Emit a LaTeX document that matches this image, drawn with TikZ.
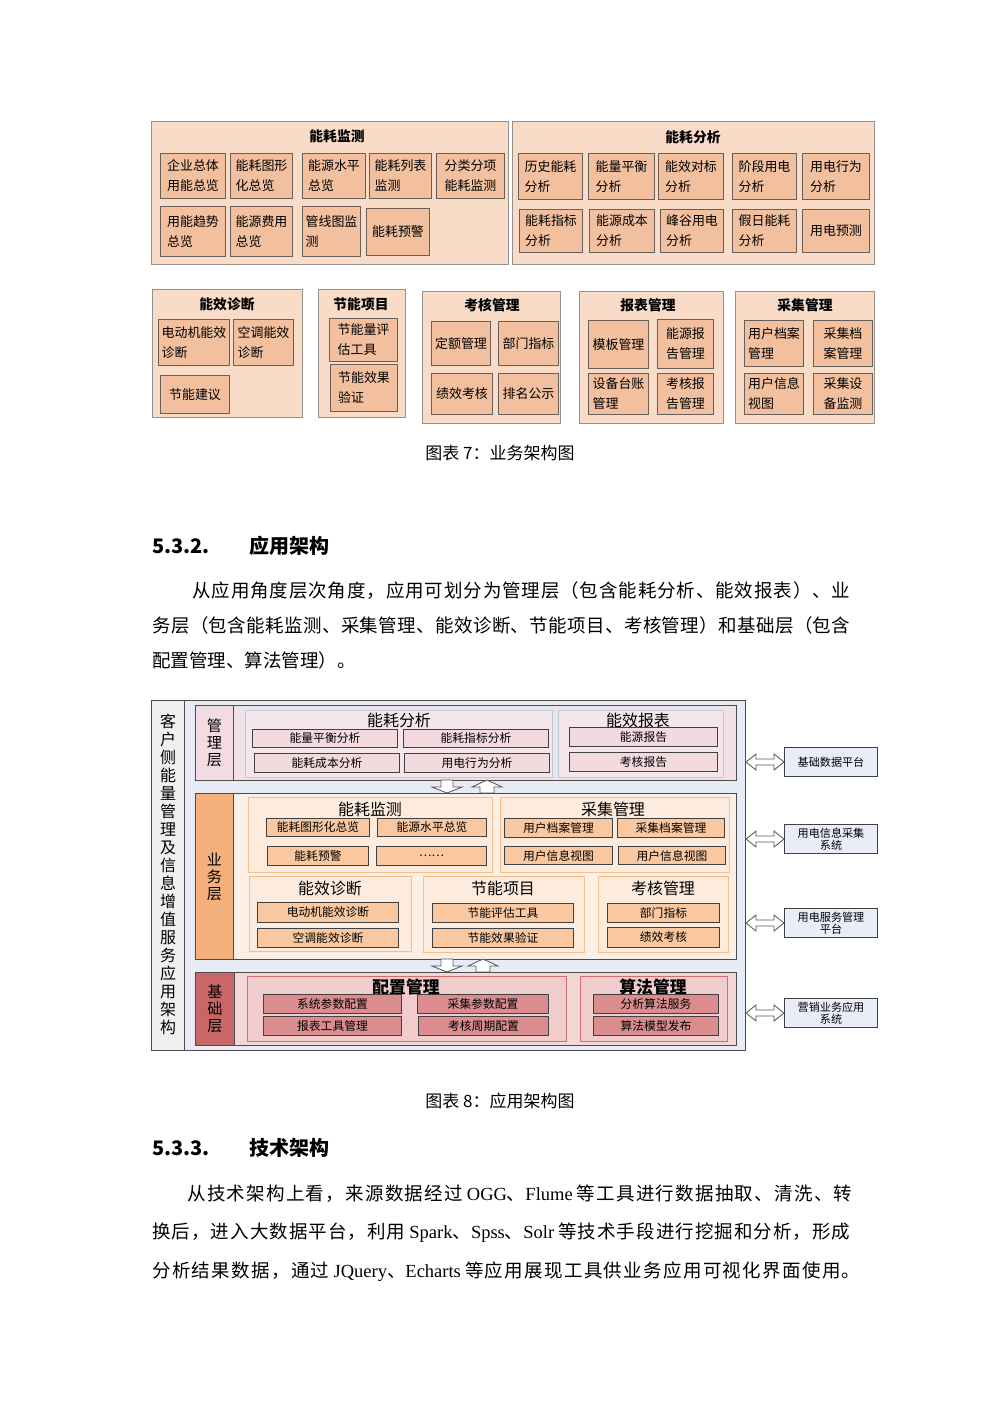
\documentclass[tikz,border=0pt]{standalone}
\usepackage{fontspec}
\setmainfont{Noto Sans CJK SC}
\newfontfamily\lat{Liberation Serif}
\usetikzlibrary{calc, positioning}

% stretchable glue between CJK characters, only for justified lines
\newcount\tegn
\tegn="4E00
\loop \XeTeXcharclass\tegn=7 \advance\tegn 1 \ifnum\tegn<"A000 \repeat
\tegn="3000
\loop \XeTeXcharclass\tegn=7 \advance\tegn 1 \ifnum\tegn<"3040 \repeat
\tegn="FF00
\loop \XeTeXcharclass\tegn=7 \advance\tegn 1 \ifnum\tegn<"FFF0 \repeat
\newcommand{\cjkglue}{\hskip 0pt plus 1fil\relax}
\XeTeXinterchartoks 7 7 = {\cjkglue}

\newlength{\pxl}
\setlength{\pxl}{0.595pt}
\newcommand{\skrift}[2]{\fontsize{#1}{#2}\selectfont}
\newcommand{\linje}[2]{{\XeTeXinterchartokenstate=1 \makebox[#1\pxl][s]{#2}}}
\newcommand{\boks}[7]{%
  \node[#1, anchor=north west, minimum width={(#4-#2)*\pxl}, minimum height={(#5-#3)*\pxl}] (#6) at (#2,#3) {#7};}
\newcommand{\nedpil}[2]{\draw[pil] ({#1-6},#2) -- ({#1+6},#2) -- ({#1+6},{#2+7}) -- ({#1+15},{#2+7}) -- (#1,{#2+13}) -- ({#1-15},{#2+7}) -- ({#1-6},{#2+7}) -- cycle;}
\newcommand{\opppil}[2]{\draw[pil] (#1,#2) -- ({#1+15},{#2+7}) -- ({#1+7},{#2+7}) -- ({#1+7},{#2+13}) -- ({#1-7},{#2+13}) -- ({#1-7},{#2+7}) -- ({#1-15},{#2+7}) -- cycle;}
\newcommand{\dobbelpil}[1]{\draw[pil] (app.east |- #1.west) -- ++(10,-8) -- ++(0,5) -- ($(#1.west)+(-10,-3)$) -- ++(0,-5) -- (#1.west) -- ++(-10,8) -- ++(0,-5) -- ($(app.east |- #1.west)+(10,3)$) -- ++(0,5) -- cycle;}

\definecolor{ytrefyll}{RGB}{249,220,200}
\definecolor{ytrekant}{RGB}{150,145,140}
\definecolor{punktfyll}{RGB}{242,192,158}
\definecolor{punktkant}{RGB}{105,95,90}
\definecolor{venstre}{RGB}{240,240,240}
\definecolor{bakblaa}{RGB}{230,235,245}
\definecolor{mcelle}{RGB}{242,220,225}
\definecolor{mfyll}{RGB}{240,226,230}
\definecolor{mgrp}{RGB}{244,231,235}
\definecolor{mgrpkant}{RGB}{180,205,220}
\definecolor{melem}{RGB}{242,218,222}
\definecolor{bcelle}{RGB}{244,176,122}
\definecolor{bfyll}{RGB}{252,240,230}
\definecolor{bgrp}{RGB}{253,236,222}
\definecolor{bgrpkant}{RGB}{246,190,140}
\definecolor{belem}{RGB}{249,200,160}
\definecolor{gcelle}{RGB}{200,102,104}
\definecolor{gfyll}{RGB}{243,214,214}
\definecolor{ggrp}{RGB}{240,204,204}
\definecolor{ggrpkant}{RGB}{205,110,112}
\definecolor{gelem}{RGB}{218,140,142}
\definecolor{ekstfyll}{RGB}{232,237,247}

\begin{document}
\begin{tikzpicture}[
    x=\pxl, y=-\pxl,
    ytre/.style = {rectangle, draw=ytrekant, fill=ytrefyll, line width=0.6pt},
    punkt/.style = {rectangle, draw=punktkant, fill=punktfyll, line width=0.6pt, inner sep=1pt, align=left, font=\skrift{7.7}{11.9}},
    tittel/.style = {inner sep=0pt, font=\skrift{8.2}{10}\bfseries},
    tekst/.style = {inner sep=0pt, anchor=west, font=\skrift{11}{13}},
    overskrift/.style = {inner sep=0pt, anchor=west, font=\skrift{11.9}{14}\bfseries},
    figtekst/.style = {inner sep=0pt, font=\skrift{10.1}{12}},
    lag/.style = {rectangle, draw=black!70, line width=0.6pt},
    lagnavn/.style = {rectangle, draw=black!70, line width=0.6pt, align=center, inner sep=0pt, font=\skrift{9}{10.1}},
    gruppe/.style = {rectangle, line width=0.6pt},
    gtittel/.style = {inner sep=0pt, font=\skrift{9.5}{11}},
    elem/.style = {rectangle, draw=black!75, line width=0.6pt, inner sep=0.5pt, font=\skrift{7}{8}},
    ekst/.style = {rectangle, draw=black!75, fill=ekstfyll, line width=0.6pt, align=center, inner sep=0.5pt, font=\skrift{6.6}{7.2}},
    pil/.style = {draw=black!65, fill=white, line width=0.5pt},
    font=\small
    ]

  \fill[white] (0,0) rectangle (1000,1415);
  \useasboundingbox (0,0) rectangle (1000,1415);

  % business architecture
  \boks{ytre}{151}{121}{508}{264}{mon}{}
  \node[tittel] (montit) at (337,136) {能耗监测};
  \boks{punkt}{160}{153}{225}{198}{m1}{企业总体\\用能总览}
  \boks{punkt}{230}{153}{292}{198}{m2}{能耗图形\\化总览}
  \boks{punkt}{302}{153}{365}{198}{m3}{能源水平\\总览}
  \boks{punkt}{369}{153}{431}{198}{m4}{能耗列表\\监测}
  \boks{punkt}{436}{153}{504}{198}{m5}{分类分项\\能耗监测}
  \boks{punkt}{160}{206}{225}{256}{m6}{用能趋势\\总览}
  \boks{punkt}{230}{206}{292}{256}{m7}{能源费用\\总览}
  \boks{punkt}{302}{206}{360}{256}{m8}{管线图监\\测}
  \boks{punkt}{366}{208}{429}{255}{m9}{能耗预警}

  \boks{ytre}{512}{121}{874}{264}{ana}{}
  \node[tittel] (anatit) at (693,137) {能耗分析};
  \boks{punkt}{518}{153}{582}{199}{a1}{历史能耗\\分析}
  \boks{punkt}{588}{153}{654}{199}{a2}{能量平衡\\分析}
  \boks{punkt}{658}{153}{723}{199}{a3}{能效对标\\分析}
  \boks{punkt}{732}{153}{796}{199}{a4}{阶段用电\\分析}
  \boks{punkt}{802}{153}{869}{199}{a5}{用电行为\\分析}
  \boks{punkt}{519}{209}{582}{252}{a6}{能耗指标\\分析}
  \boks{punkt}{589}{209}{654}{252}{a7}{能源成本\\分析}
  \boks{punkt}{660}{209}{723}{252}{a8}{峰谷用电\\分析}
  \boks{punkt}{732}{209}{796}{252}{a9}{假日能耗\\分析}
  \boks{punkt}{802}{209}{869}{252}{a10}{用电预测}

  \boks{ytre}{152}{289}{302}{417}{diag}{}
  \node[tittel] (diagtit) at (227,304) {能效诊断};
  \boks{punkt}{158}{319}{229}{365}{d1}{电动机能效\\诊断}
  \boks{punkt}{233}{319}{293}{365}{d2}{空调能效\\诊断}
  \boks{punkt}{160}{375}{229}{413}{d3}{节能建议}

  \boks{ytre}{318}{289}{405}{417}{prosj}{}
  \node[tittel] (prosjtit) at (361,304) {节能项目};
  \boks{punkt}{329}{318}{397}{361}{j1}{节能量评\\估工具}
  \boks{punkt}{330}{364}{397}{411}{j2}{节能效果\\验证}

  \boks{ytre}{422}{291}{560}{423}{kont}{}
  \node[tittel] (konttit) at (492,305) {考核管理};
  \boks{punkt}{431}{321}{490}{365}{k1}{定额管理}
  \boks{punkt}{498}{321}{558}{365}{k2}{部门指标}
  \boks{punkt}{431}{373}{492}{414}{k3}{绩效考核}
  \boks{punkt}{498}{373}{558}{414}{k4}{排名公示}

  \boks{ytre}{579}{291}{723}{423}{rapp}{}
  \node[tittel] (rapptit) at (648,305) {报表管理};
  \boks{punkt}{588}{320}{648}{368}{r1}{模板管理}
  \boks{punkt}{657}{319}{713}{368}{r2}{能源报\\告管理}
  \boks{punkt}{588}{373}{648}{414}{r3}{设备台账\\管理}
  \boks{punkt}{657}{373}{713}{414}{r4}{考核报\\告管理}

  \boks{ytre}{735}{291}{874}{423}{innh}{}
  \node[tittel] (innhtit) at (805,305) {采集管理};
  \boks{punkt}{744}{320}{803}{366}{c1}{用户档案\\管理}
  \boks{punkt}{813}{320}{872}{366}{c2}{采集档\\案管理}
  \boks{punkt}{744}{373}{803}{414}{c3}{用户信息\\视图}
  \boks{punkt}{813}{373}{872}{414}{c4}{采集设\\备监测}

  \node[figtekst] (cap7) at (500,453) {图表 7：业务架构图};

  % text
  \node[overskrift] (h532n) at (152,546) {5.3.2.};
  \node[overskrift] (h532) at (249,546) {应用架构};
  \node[tekst] (p1a) at (192,591) {\linje{658}{从应用角度层次角度，应用可划分为管理层（包含能耗分析、能效报表）、业}};
  \node[tekst] (p1b) at (152,625) {\linje{698}{务层（包含能耗监测、采集管理、能效诊断、节能项目、考核管理）和基础层（包含}};
  \node[tekst] (p1c) at (152,660) {配置管理、算法管理）。};

  % application architecture
  \boks{lag, fill=venstre}{151}{700}{745}{1050}{app}{}
  \boks{lag, fill=bakblaa}{184}{700}{745}{1050}{appbak}{}
  \node[align=center, inner sep=0pt, font=\skrift{9.5}{10.7}] (apptit) at (168,874)
    {客\\户\\侧\\能\\量\\管\\理\\及\\信\\息\\增\\值\\服\\务\\应\\用\\架\\构};

  \boks{lag, fill=mfyll}{195}{705}{736}{780}{mlag}{}
  \boks{lagnavn, fill=mcelle}{195}{705}{233}{780}{mcell}{管\\理\\层}
  \boks{gruppe, draw=mgrpkant, fill=mgrp}{245}{710}{552}{777}{mg1}{}
  \boks{gruppe, draw=mgrpkant, fill=mgrp}{558}{710}{723}{777}{mg2}{}
  \node[gtittel] (mg1tit) at (399,720) {能耗分析};
  \node[gtittel] (mg2tit) at (638,720) {能效报表};
  \boks{elem, fill=melem}{252}{729}{397}{747}{me1}{能量平衡分析}
  \boks{elem, fill=melem}{403}{729}{548}{747}{me2}{能耗指标分析}
  \boks{elem, fill=melem}{254}{753}{399}{772}{me3}{能耗成本分析}
  \boks{elem, fill=melem}{404}{753}{549}{772}{me4}{用电行为分析}
  \boks{elem, fill=melem}{569}{727}{717}{746}{me5}{能源报告}
  \boks{elem, fill=melem}{569}{752}{717}{771}{me6}{考核报告}

  \nedpil{447}{780}
  \opppil{487}{780}

  \boks{lag, fill=bfyll}{195}{793}{736}{959}{blag}{}
  \boks{lagnavn, fill=bcelle}{195}{793}{233}{959}{bcell}{业\\务\\层}
  \boks{gruppe, draw=bgrpkant, fill=bgrp}{248}{797}{492}{872}{bg1}{}
  \boks{gruppe, draw=bgrpkant, fill=bgrp}{500}{797}{729}{872}{bg2}{}
  \boks{gruppe, draw=bgrpkant, fill=bgrp}{249}{876}{411}{951}{bg3}{}
  \boks{gruppe, draw=bgrpkant, fill=bgrp}{423}{876}{584}{952}{bg4}{}
  \boks{gruppe, draw=bgrpkant, fill=bgrp}{598}{876}{728}{952}{bg5}{}
  \node[gtittel] (bg1tit) at (370,809) {能耗监测};
  \node[gtittel] (bg2tit) at (613,809) {采集管理};
  \node[gtittel] (bg3tit) at (330,888) {能效诊断};
  \node[gtittel] (bg4tit) at (503,888) {节能项目};
  \node[gtittel] (bg5tit) at (663,888) {考核管理};
  \boks{elem, fill=belem}{266}{818}{369}{836}{be1}{能耗图形化总览}
  \boks{elem, fill=belem}{377}{818}{486}{836}{be2}{能源水平总览}
  \boks{elem, fill=belem}{267}{846}{368}{865}{be3}{能耗预警}
  \boks{elem, fill=belem}{376}{846}{486}{865}{be4}{……}
  \boks{elem, fill=belem}{504}{818}{612}{837}{be5}{用户档案管理}
  \boks{elem, fill=belem}{617}{818}{724}{837}{be6}{采集档案管理}
  \boks{elem, fill=belem}{504}{846}{612}{864}{be7}{用户信息视图}
  \boks{elem, fill=belem}{618}{846}{725}{864}{be8}{用户信息视图}
  \boks{elem, fill=belem}{257}{902}{398}{922}{be9}{电动机能效诊断}
  \boks{elem, fill=belem}{257}{928}{398}{947}{be10}{空调能效诊断}
  \boks{elem, fill=belem}{432}{903}{573}{922}{be11}{节能评估工具}
  \boks{elem, fill=belem}{432}{928}{573}{947}{be12}{节能效果验证}
  \boks{elem, fill=belem}{607}{903}{719}{922}{be13}{部门指标}
  \boks{elem, fill=belem}{607}{927}{719}{947}{be14}{绩效考核}

  \nedpil{447}{959}
  \opppil{483}{959}

  \boks{lag, fill=gfyll}{195}{972}{736}{1045}{glag}{}
  \boks{lagnavn, fill=gcelle}{195}{972}{234}{1045}{gcell}{基\\础\\层}
  \boks{gruppe, draw=ggrpkant, fill=ggrp}{247}{976}{566}{1041}{gg1}{}
  \boks{gruppe, draw=ggrpkant, fill=ggrp}{580}{976}{727}{1041}{gg2}{}
  \node[gtittel, font=\skrift{10}{11}\bfseries] (gg1tit) at (406,987) {配置管理};
  \node[gtittel, font=\skrift{10}{11}\bfseries] (gg2tit) at (653,987) {算法管理};
  \boks{elem, fill=gelem}{263}{994}{401}{1013}{ge1}{系统参数配置}
  \boks{elem, fill=gelem}{417}{994}{548}{1013}{ge2}{采集参数配置}
  \boks{elem, fill=gelem}{263}{1016}{401}{1035}{ge3}{报表工具管理}
  \boks{elem, fill=gelem}{418}{1016}{548}{1035}{ge4}{考核周期配置}
  \boks{elem, fill=gelem}{593}{994}{718}{1013}{ge5}{分析算法服务}
  \boks{elem, fill=gelem}{593}{1016}{718}{1035}{ge6}{算法模型发布}

  \boks{ekst}{784}{747}{877}{776}{e1}{基础数据平台}
  \boks{ekst}{784}{824}{877}{853}{e2}{用电信息采集\\系统}
  \boks{ekst}{784}{908}{877}{937}{e3}{用电服务管理\\平台}
  \boks{ekst}{784}{998}{877}{1027}{e4}{营销业务应用\\系统}
  \foreach \e in {e1,e2,e3,e4} {\dobbelpil{\e}}

  \node[figtekst] (cap8) at (500,1101) {图表 8：应用架构图};

  \node[overskrift] (h533n) at (152,1148) {5.3.3.};
  \node[overskrift] (h533) at (249,1148) {技术架构};
  \node[tekst] (p2a) at (187,1194) {\linje{665}{从技术架构上看，来源数据经过 {\lat OGG}、{\lat Flume} 等工具进行数据抽取、清洗、转}};
  \node[tekst] (p2b) at (152,1233) {\linje{698}{换后，进入大数据平台，利用 {\lat Spark}、{\lat Spss}、{\lat Solr} 等技术手段进行挖掘和分析，形成}};
  \node[tekst] (p2c) at (152,1272) {\linje{708}{分析结果数据，通过 {\lat JQuery}、{\lat Echarts} 等应用展现工具供业务应用可视化界面使用。}};
\end{tikzpicture}
\end{document}
